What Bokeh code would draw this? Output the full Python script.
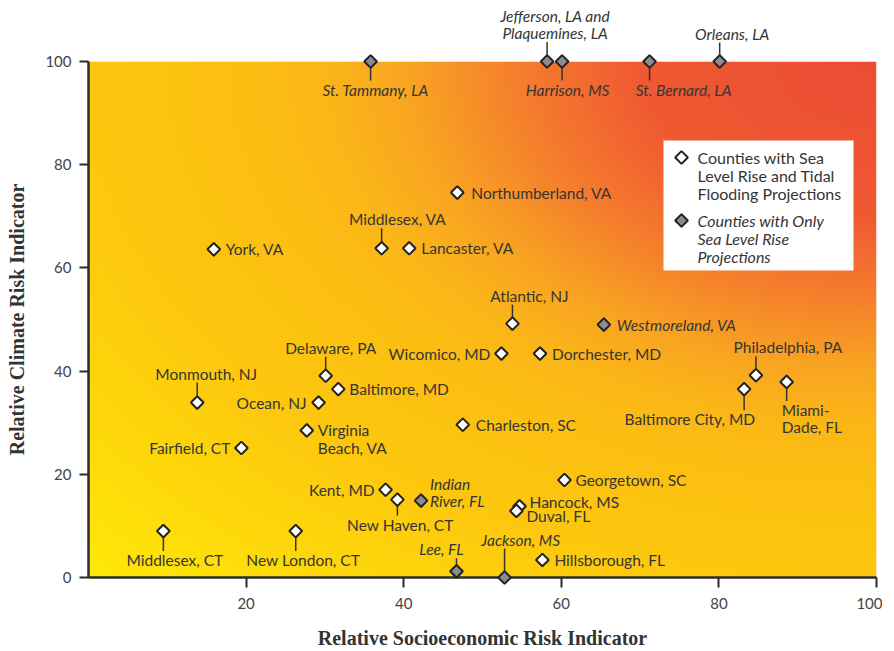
import numpy as np
from bokeh.plotting import figure
from bokeh.models import ColumnDataSource, FixedTicker, BoxAnnotation
from bokeh.core.properties import value
from bokeh.embed import file_html
from bokeh.resources import INLINE

# ---------------- data ----------------
tidal_names = ["Northumberland, VA", "Middlesex, VA", "Lancaster, VA", "York, VA",
               "Atlantic, NJ", "Wicomico, MD", "Dorchester, MD", "Delaware, PA",
               "Baltimore, MD", "Monmouth, NJ", "Ocean, NJ", "Virginia\nBeach, VA",
               "Fairfield, CT", "Charleston, SC", "Philadelphia, PA", "Baltimore City, MD",
               "Miami-\nDade, FL", "Georgetown, SC", "Hancock, MS", "Duval, FL",
               "Hillsborough, FL", "Kent, MD", "New Haven, CT", "Middlesex, CT",
               "New London, CT"]
tidal_socio = [46.8, 37.2, 40.7, 15.9, 53.8, 52.4, 57.3, 30.1, 31.7, 13.8, 29.2, 27.7,
               19.4, 47.5, 84.7, 83.2, 88.6, 60.4, 54.7, 54.3, 57.6, 37.7, 39.2, 9.5, 26.3]
tidal_climate = [74.6, 63.8, 63.8, 63.6, 49.2, 43.4, 43.4, 39.1, 36.5, 33.9, 33.9, 28.5,
                 25.1, 29.6, 39.2, 36.5, 37.9, 18.9, 13.8, 12.9, 3.4, 17.0, 15.1, 9.0, 9.0]

slr_names = ["St. Tammany, LA", "Jefferson, LA and\nPlaquemines, LA", "Harrison, MS",
             "St. Bernard, LA", "Orleans, LA", "Westmoreland, VA", "Indian\nRiver, FL",
             "Lee, FL", "Jackson, MS"]
slr_socio = [35.8, 58.2, 60.1, 71.2, 80.1, 65.4, 42.2, 46.7, 52.8]
slr_climate = [100, 100, 100, 100, 100, 49.0, 14.9, 1.2, 0]

x_ticks = [20, 40, 60, 80, 100]
y_ticks = [0, 20, 40, 60, 80, 100]

legend_labels = ["Counties with Sea\nLevel Rise and Tidal\nFlooding Projections",
                 "Counties with Only\nSea Level Rise\nProjections"]

# ---------------- label layout (screen px): align, dx, dy of first line, leader ----------------
tidal_layout = [("left", 14, 0, None), ("center", 16, -29, "up"), ("left", 12, 0, None),
                ("left", 12, 0, None), ("center", 17, -28, "up"), ("right", -11, 0, None),
                ("left", 12, 0, None), ("center", 5, -28, "up"), ("left", 11, 0, None),
                ("center", 9, -29, "up"), ("right", -12, 0, None), ("left", 11, 0, None),
                ("right", -11, 0, None), ("left", 13, 0, None), ("center", 32, -28, "up"),
                ("right", 11, 30, "down"), ("left", -5, 28, "down"), ("left", 11, 0, None),
                ("left", 10, -4, None), ("left", 10, 5, None), ("left", 12, 0, None),
                ("right", -11, 0, None), ("center", 3, 25, "down"), ("center", 11.5, 29, "down"),
                ("center", 7.5, 29, "down")]
slr_layout = [("center", 5, 28, "down"), ("center", 8, -46, "up"), ("center", 5.5, 28, "down"),
              ("center", 34, 28, "down"), ("center", 12.5, -28, "up"), ("left", 13, 0, None),
              ("left", 9, -17, None), ("center", -15, -22, "up"), ("center", 16, -38, "up")]

FW, FH = 788, 516
LINE_H = 17.5
TEXT_C = "#353535"
FONT = "Lato"
MSIZE = 9

p = figure(frame_width=FW, frame_height=FH, x_range=(0, 100), y_range=(0, 100),
           min_border_left=88, min_border_right=6, min_border_top=61, min_border_bottom=60,
           output_backend="svg", toolbar_location=None,
           background_fill_color="white", border_fill_color="white")
p.outline_line_color = None
p.grid.visible = False

# ---------------- gradient background ----------------
nx, ny = 394, 258
u = np.linspace(0, 1, nx)[None, :]
v = np.linspace(0, 1, ny)[:, None]
d = np.sqrt((1 - u) ** 2 + (1 - v) ** 2)
stops = [0.0, 0.30, 0.45, 0.60, 0.70, 0.80, 1.00, 1.42]
cols = [(236, 76, 53), (240, 90, 50), (245, 125, 45), (249, 166, 33), (251, 182, 24),
        (252, 191, 18), (253, 199, 14), (255, 233, 8)]
img = np.empty((ny, nx), dtype=np.uint32)
view = img.view(dtype=np.uint8).reshape((ny, nx, 4))
for k in range(3):
    view[:, :, k] = np.interp(d, stops, [c[k] for c in cols]).astype(np.uint8)
view[:, :, 3] = 255
p.image_rgba(image=[img], x=0, y=0, dw=100, dh=100, level="image")

px2x = 100.0 / FW
px2y = 100.0 / FH

# ---------------- leaders and labels ----------------
def add_text(rows, italic, size):
    for al, g in rows.items():
        src = ColumnDataSource(g)
        p.text(x="x", y="y", text="t", x_offset="xo", y_offset="yo", source=src,
               text_align=al, text_baseline="middle", text_font=value(FONT),
               text_font_size=size, text_color=TEXT_C,
               text_font_style="italic" if italic else "normal", level="overlay")

def build(names, xs, ys, layout, italic):
    lx0, ly0, ly1 = [], [], []
    rows = {}
    for name, x, y, (al, dx, dy, lead) in zip(names, xs, ys, layout):
        lines = name.split("\n")
        offs = [dy + i * LINE_H for i in range(len(lines))]
        for ln, off in zip(lines, offs):
            g = rows.setdefault(al, dict(x=[], y=[], t=[], xo=[], yo=[]))
            g["x"].append(x); g["y"].append(y); g["t"].append(ln)
            g["xo"].append(dx); g["yo"].append(off)
        if lead == "up":
            end = offs[-1] + 9
        elif lead == "down":
            end = offs[0] - 9
        else:
            continue
        lx0.append(x); ly0.append(y); ly1.append(y - end * px2y)
    p.segment(x0=lx0, y0=ly0, x1=lx0, y1=ly1, line_color="#333333", line_width=1.5,
              level="overlay")
    add_text(rows, italic, "15.5px")

build(tidal_names, tidal_socio, tidal_climate, tidal_layout, False)
build(slr_names, slr_socio, slr_climate, slr_layout, True)

fills = ["white", "#8c8c8c"]
p.scatter(tidal_socio, tidal_climate, marker="square", angle=np.pi / 4, size=MSIZE,
          fill_color=fills[0], line_color="#222222", line_width=2, level="overlay")
p.scatter(slr_socio, slr_climate, marker="square", angle=np.pi / 4, size=MSIZE,
          fill_color=fills[1], line_color="#222222", line_width=2, level="overlay")

# ---------------- legend (box position in frame pixels from top-left) ----------------
BOX_L, BOX_T, BOX_R, BOX_B = 575, 79, 765, 209
ITEM_T = [96, 159]
LEG_LINE = 18
p.add_layout(BoxAnnotation(left=BOX_L * px2x, right=BOX_R * px2x,
                           top=100 - BOX_T * px2y, bottom=100 - BOX_B * px2y,
                           fill_color="white", fill_alpha=1, line_color=None))
for i, lab in enumerate(legend_labels):
    gy = 100 - ITEM_T[i] * px2y
    p.scatter([(BOX_L + 18) * px2x], [gy], marker="square", angle=np.pi / 4, size=MSIZE,
              fill_color=fills[i], line_color="#222222", line_width=2, level="overlay")
    rows = {"left": dict(x=[], y=[], t=[], xo=[], yo=[])}
    for j, ln in enumerate(lab.split("\n")):
        g = rows["left"]
        g["x"].append((BOX_L + 34) * px2x); g["y"].append(gy); g["t"].append(ln)
        g["xo"].append(0); g["yo"].append(j * LEG_LINE)
    add_text(rows, i == 1, "16px")

# ---------------- axes ----------------
p.xaxis.ticker = FixedTicker(ticks=x_ticks)
p.yaxis.ticker = FixedTicker(ticks=y_ticks)
for ax in (p.xaxis, p.yaxis):
    ax.axis_line_width = 2.5
    ax.axis_line_color = "#2b2b2b"
    ax.major_tick_line_width = 2
    ax.major_tick_line_color = "#2b2b2b"
    ax.major_tick_in = 0
    ax.minor_tick_line_color = None
    ax.major_label_text_font = FONT
    ax.major_label_text_font_size = "15px"
    ax.major_label_text_color = "#444444"
    ax.axis_label_text_font = "Liberation Serif"
    ax.axis_label_text_font_style = "bold"
    ax.axis_label_text_font_size = "20px"
    ax.axis_label_text_color = "#333333"
p.xaxis.major_tick_out = 10
p.yaxis.major_tick_out = 9
p.xaxis.major_label_standoff = 10
p.yaxis.major_label_standoff = 8
p.xaxis.axis_label = "Relative Socioeconomic Risk Indicator"
p.yaxis.axis_label = "Relative Climate Risk Indicator"
p.xaxis.axis_label_standoff = 15
p.yaxis.axis_label_standoff = 14

open("out.html", "w").write(file_html(p, INLINE))
